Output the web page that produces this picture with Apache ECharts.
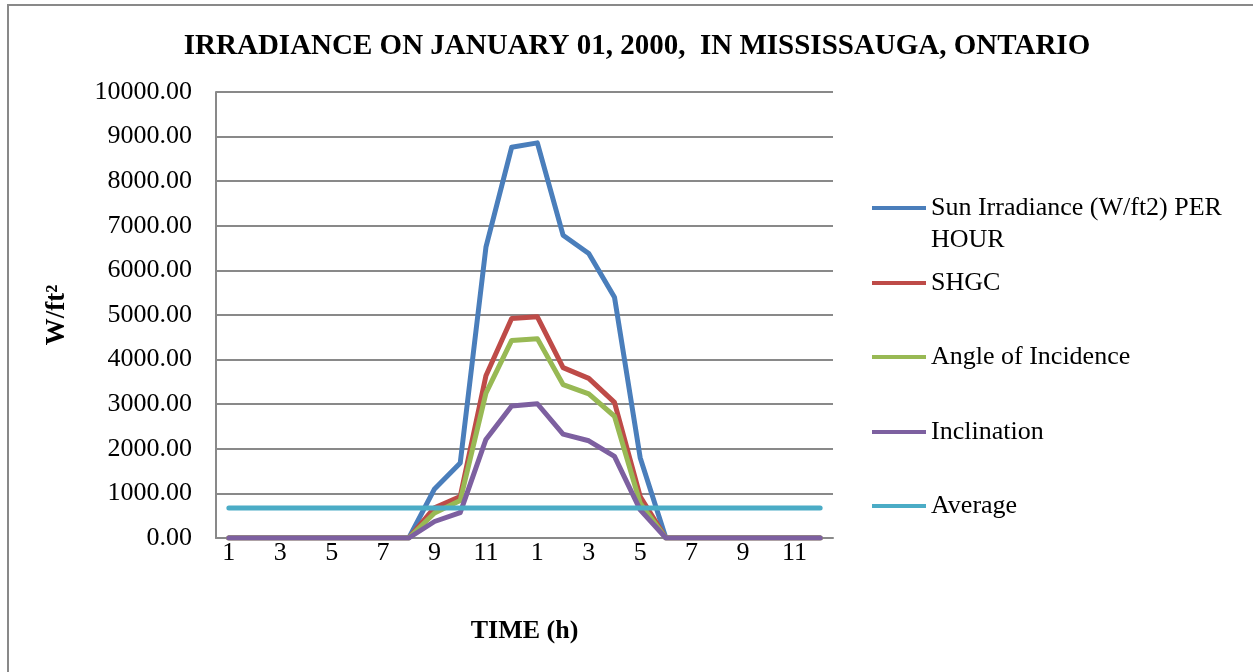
<!DOCTYPE html>
<html>
<head>
<meta charset="utf-8">
<script src="https://cdn.jsdelivr.net/npm/echarts@6/dist/echarts.min.js"></script>
<style>html,body{margin:0;padding:0;background:#fff}#c{width:1253px;height:672px}</style>
</head>
<body>
<div id="c"></div>
<script>
const hours = ['1','2','3','4','5','6','7','8','9','10','11','12','1','2','3','4','5','6','7','8','9','10','11','12'];
const sunIrradiance = [0,0,0,0,0,0,0,0,1100,1680,6520,8760,8860,6790,6380,5400,1800,0,0,0,0,0,0,0];
const shgc = [0,0,0,0,0,0,0,0,680,930,3640,4920,4960,3820,3580,3040,930,0,0,0,0,0,0,0];
const angleOfIncidence = [0,0,0,0,0,0,0,0,560,840,3250,4430,4470,3440,3230,2730,780,0,0,0,0,0,0,0];
const inclination = [0,0,0,0,0,0,0,0,370,570,2210,2960,3010,2330,2180,1830,630,0,0,0,0,0,0,0];
const average = [670,670,670,670,670,670,670,670,670,670,670,670,670,670,670,670,670,670,670,670,670,670,670,670];
const yTicks = [0,1000,2000,3000,4000,5000,6000,7000,8000,9000,10000];
const seriesNames = ['Sun Irradiance (W/ft2) PER HOUR','SHGC','Angle of Incidence','Inclination','Average'];
const colors = ['#4A7EBB','#BE4B48','#98B954','#7D60A0','#4BACC6'];

const F = "'Liberation Serif','Times New Roman',serif";
const chart = echarts.init(document.getElementById('c'), null, {renderer:'canvas'});
const dataSets = [sunIrradiance, shgc, angleOfIncidence, inclination, average];
const legendCenters = [206, 281, 355, 430, 504];

chart.setOption({
  animation: false,
  backgroundColor: '#fff',
  color: colors,
  title: {
    text: 'IRRADIANCE ON JANUARY 01, 2000,  IN MISSISSAUGA, ONTARIO',
    left: 632, top: 42, textAlign: 'center', textVerticalAlign: 'middle',
    textStyle: {fontFamily: F, fontWeight: 'bold', fontSize: 29, color: '#000'}
  },
  legend: seriesNames.map((n, i) => ({
    data: [n],
    left: 872, top: legendCenters[i] - 14,
    padding: 0,
    orient: 'vertical',
    icon: 'rect', itemWidth: 54, itemHeight: 4,
    selectedMode: false,
    formatter: i === 0 ? () => 'Sun Irradiance (W/ft2) PER' : undefined,
    textStyle: {fontFamily: F, fontSize: 26, color: '#000', lineHeight: 28, padding: [4, 0, 0, 0]}
  })),
  graphic: [
    {type: 'rect', shape: {x: 8, y: 5, width: 1400, height: 800}, style: {fill: 'none', stroke: '#898989', lineWidth: 2}, silent: true},
    {type: 'text', left: 931, top: 227, style: {text: 'HOUR', font: '26px ' + F, fill: '#000'}}
  ],
  grid: {left: 216, right: 420, top: 92, bottom: 134},
  xAxis: {
    type: 'category', data: hours, boundaryGap: true,
    name: 'TIME (h)', nameLocation: 'middle', nameGap: 80,
    nameTextStyle: {fontFamily: F, fontWeight: 'bold', fontSize: 26, color: '#000'},
    axisLine: {lineStyle: {color: '#898989', width: 2}},
    axisTick: {show: false},
    axisLabel: {interval: 1, margin: 2, fontFamily: F, fontSize: 26, color: '#000'}
  },
  yAxis: {
    type: 'value', min: 0, max: 10000, interval: 1000,
    name: 'W/ft²', nameLocation: 'middle', nameGap: 145,
    nameTextStyle: {fontFamily: F, fontWeight: 'bold', fontSize: 27, color: '#000'},
    axisLine: {show: true, lineStyle: {color: '#898989', width: 2}},
    axisTick: {show: false},
    splitLine: {lineStyle: {color: '#898989', width: 2}},
    axisLabel: {margin: 24, fontFamily: F, fontSize: 26, color: '#000',
      formatter: v => yTicks.includes(v) ? v.toFixed(2) : ''}
  },
  series: seriesNames.map((n, i) => ({
    name: n, type: 'line', data: dataSets[i],
    symbol: 'none', smooth: false,
    lineStyle: {width: 5, color: colors[i], cap: 'round', join: 'round'},
    itemStyle: {color: colors[i]}
  }))
});
</script>
</body>
</html>
